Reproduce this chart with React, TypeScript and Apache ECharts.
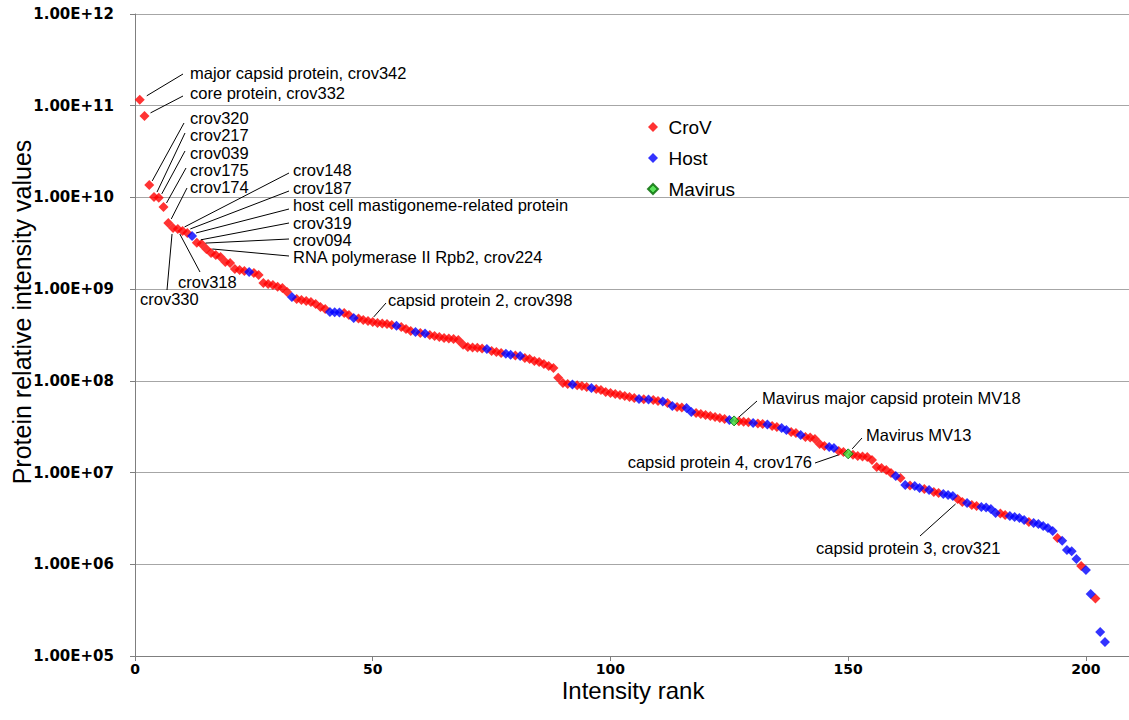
import React, { useEffect, useRef } from "react";
import * as echarts from "echarts";

// Protein relative intensity values, ordered by intensity rank (rank = index + 1)
const intensity: number[] = [
  1.16e11, 7.74e10, 1.37e10, 1.01e10, 9.89e9, 7.87e9, 5.27e9, 4.65e9, 4.53e9, 4.31e9,
  4.10e9, 3.80e9, 3.20e9, 3.10e9, 2.74e9, 2.48e9, 2.36e9, 2.24e9, 1.98e9, 1.93e9,
  1.66e9, 1.62e9, 1.58e9, 1.54e9, 1.50e9, 1.43e9, 1.17e9, 1.14e9, 1.11e9, 1.06e9,
  1.03e9, 9.31e8, 8.22e8, 7.82e8, 7.62e8, 7.43e8, 7.25e8, 6.90e8, 6.40e8, 6.08e8,
  5.64e8, 5.60e8, 5.55e8, 5.50e8, 5.23e8, 4.85e8, 4.80e8, 4.61e8, 4.50e8, 4.39e8,
  4.28e8, 4.22e8, 4.17e8, 4.07e8, 4.00e8, 3.87e8, 3.68e8, 3.50e8, 3.41e8, 3.33e8,
  3.28e8, 3.16e8, 3.09e8, 3.01e8, 2.94e8, 2.90e8, 2.86e8, 2.79e8, 2.47e8, 2.34e8,
  2.31e8, 2.29e8, 2.26e8, 2.23e8, 2.12e8, 2.07e8, 2.01e8, 1.98e8, 1.92e8, 1.89e8,
  1.87e8, 1.78e8, 1.73e8, 1.65e8, 1.61e8, 1.53e8, 1.45e8, 1.38e8, 1.08e8, 9.48e7,
  9.25e7, 9.10e7, 8.95e7, 8.79e7, 8.57e7, 8.37e7, 8.16e7, 7.96e7, 7.57e7, 7.38e7,
  7.20e7, 7.02e7, 6.84e7, 6.68e7, 6.51e7, 6.35e7, 6.30e7, 6.25e7, 6.20e7, 6.04e7,
  5.97e7, 5.74e7, 5.32e7, 5.19e7, 5.12e7, 5.06e7, 4.58e7, 4.47e7, 4.36e7, 4.25e7,
  4.14e7, 4.04e7, 3.94e7, 3.84e7, 3.75e7, 3.66e7, 3.62e7, 3.58e7, 3.54e7, 3.48e7,
  3.43e7, 3.39e7, 3.35e7, 3.22e7, 3.14e7, 3.06e7, 2.91e7, 2.77e7, 2.70e7, 2.57e7,
  2.44e7, 2.41e7, 2.32e7, 2.05e7, 1.95e7, 1.90e7, 1.85e7, 1.72e7, 1.68e7, 1.60e7,
  1.56e7, 1.52e7, 1.50e7, 1.48e7, 1.37e7, 1.15e7, 1.12e7, 1.07e7, 9.90e6, 9.18e6,
  8.73e6, 7.32e6, 7.25e6, 7.14e6, 6.79e6, 6.62e6, 6.46e6, 6.14e6, 5.99e6, 5.84e6,
  5.70e6, 5.56e6, 5.15e6, 4.78e6, 4.66e6, 4.43e6, 4.32e6, 4.22e6, 4.17e6, 4.01e6,
  3.63e6, 3.59e6, 3.45e6, 3.36e6, 3.28e6, 3.20e6, 3.04e6, 2.89e6, 2.82e6, 2.75e6,
  2.62e6, 2.49e6, 2.31e6, 1.94e6, 1.80e6, 1.43e6, 1.39e6, 1.14e6, 9.58e5, 8.67e5,
  4.74e5, 4.24e5, 1.83e5, 1.42e5,
];

// Ranks of host proteins and Mavirus proteins (all others are CroV)
const hostRanks: number[] = [
  12, 24, 33, 41, 42, 43, 46, 55, 59, 61, 74, 78, 79, 81, 92, 96, 106, 108, 111, 113,
  116, 117, 125, 130, 133, 136, 137, 140, 146, 147, 160, 162, 164, 165, 167, 170, 171,
  172, 175, 178, 179, 180, 181, 184, 185, 186, 187, 189, 190, 191, 192, 193, 195, 196,
  197, 198, 200, 201, 203, 204,
];
const mavirusRanks: number[] = [126, 150];

const seriesNames: string[] = ["CroV", "Host", "Mavirus"];

// Annotated proteins (rank + label)
const annotationRanks: number[] = [1, 2, 3, 4, 5, 6, 7, 10, 11, 12, 13, 14, 15, 9, 8, 50, 126, 150, 149, 173];
const annotationTexts: string[] = [
  "major capsid protein, crov342",
  "core protein, crov332",
  "crov320",
  "crov217",
  "crov039",
  "crov175",
  "crov174",
  "crov148",
  "crov187",
  "host cell mastigoneme-related protein",
  "crov319",
  "crov094",
  "RNA polymerase II Rpb2, crov224",
  "crov318",
  "crov330",
  "capsid protein 2, crov398",
  "Mavirus major capsid protein MV18",
  "Mavirus MV13",
  "capsid protein 4, crov176",
  "capsid protein 3, crov321",
];

// Layout of annotation labels (pixels): text anchor, leader start, offset of leader end from point
const annotationLayout = [
  { tx: 190, ty: 73, lx: 183, ly: 74, dx: 7, dy: -4, align: "left" },
  { tx: 190, ty: 93, lx: 183, ly: 96, dx: 6, dy: -3, align: "left" },
  { tx: 190, ty: 118, lx: 184, ly: 123, dx: 3, dy: -4, align: "left" },
  { tx: 190, ty: 135, lx: 185, ly: 133, dx: 3, dy: -5, align: "left" },
  { tx: 190, ty: 153, lx: 185, ly: 151, dx: 3, dy: -4, align: "left" },
  { tx: 190, ty: 170, lx: 186, ly: 168, dx: 3, dy: -4, align: "left" },
  { tx: 190, ty: 187, lx: 187, ly: 188, dx: 3, dy: -4, align: "left" },
  { tx: 293, ty: 170, lx: 289, ly: 173, dx: 2, dy: -4, align: "left" },
  { tx: 293, ty: 188, lx: 289, ly: 191, dx: 3, dy: -4, align: "left" },
  { tx: 293, ty: 205, lx: 289, ly: 209, dx: 4, dy: -3, align: "left" },
  { tx: 293, ty: 223, lx: 289, ly: 223, dx: 4, dy: -3, align: "left" },
  { tx: 293, ty: 240, lx: 289, ly: 239, dx: 4, dy: -1, align: "left" },
  { tx: 293, ty: 257, lx: 289, ly: 256, dx: 6, dy: 0, align: "left" },
  { tx: 178, ty: 282, lx: 200, ly: 272, dx: 2, dy: 5, align: "left" },
  { tx: 140, ty: 299, lx: 167, ly: 290, dx: -1, dy: 6, align: "left" },
  { tx: 388, ty: 300, lx: 386, ly: 303, dx: 1, dy: -5, align: "left" },
  { tx: 762, ty: 398, lx: 757, ly: 401, dx: 5, dy: -4, align: "left" },
  { tx: 866, ty: 435, lx: 862, ly: 438, dx: 4, dy: -5, align: "left" },
  { tx: 812, ty: 462, lx: 815, ly: 463, dx: -5, dy: 3, align: "right" },
  { tx: 816, ty: 548, lx: 920, ly: 536, dx: -2, dy: 5, align: "left" },
];

const TEXT_FONT = "'Liberation Sans', Arial, sans-serif";
const TICK_FONT = "'DejaVu Sans', Verdana, sans-serif";
const DIAMOND = "path://M5,0L10,5L5,10L0,5Z";

function fmtE(v: number): string {
  const e = Math.round(Math.log10(v));
  return "1.00E+" + String(e).padStart(2, "0");
}

export default function App() {
  const ref = useRef<HTMLDivElement>(null);

  useEffect(() => {
    if (!ref.current) return;
    const chart = echarts.init(ref.current, undefined, { renderer: "svg" });

    const crov: number[][] = [];
    const host: number[][] = [];
    const mav: number[][] = [];
    intensity.forEach((v, i) => {
      const r = i + 1;
      if (mavirusRanks.includes(r)) mav.push([r, v]);
      else if (hostRanks.includes(r)) host.push([r, v]);
      else crov.push([r, v]);
    });

    chart.setOption({
      animation: false,
      grid: {
        left: 135,
        top: 14,
        width: 998.5,
        height: 642,
        containLabel: false,
        outerBoundsMode: "none",
      },
      xAxis: {
        type: "value",
        min: 0,
        max: 210,
        interval: 50,
        axisLine: { show: true, lineStyle: { color: "#7f7f7f", width: 1 } },
        axisTick: { show: true, length: 5, lineStyle: { color: "#7f7f7f" } },
        axisLabel: {
          showMaxLabel: false,
          fontFamily: TICK_FONT,
          fontWeight: "bold",
          fontSize: 14,
          color: "#000",
          margin: 6,
        },
        splitLine: { show: false },
      },
      yAxis: {
        type: "log",
        logBase: 10,
        min: 1e5,
        max: 1e12,
        splitNumber: 7,
        axisLine: { show: true, lineStyle: { color: "#7f7f7f", width: 1 } },
        axisTick: { show: true, length: 5, lineStyle: { color: "#7f7f7f" } },
        axisLabel: {
          formatter: (v: number) => fmtE(v),
          fontFamily: TICK_FONT,
          fontWeight: "bold",
          fontSize: 15,
          color: "#000",
          margin: 21,
        },
        splitLine: { show: true, lineStyle: { color: "#a6a6a6", width: 1 } },
        minorTick: { show: false },
        minorSplitLine: { show: false },
      },
      legend: {
        orient: "vertical",
        left: 642,
        top: 112,
        itemWidth: 21,
        itemHeight: 10,
        itemGap: 11,
        icon: DIAMOND,
        symbolKeepAspect: true,
        data: seriesNames,
        textStyle: { fontSize: 19, fontFamily: TEXT_FONT, color: "#000", lineHeight: 20 },
      },
      series: [
        {
          name: seriesNames[0],
          type: "scatter",
          symbol: "diamond",
          symbolSize: 10,
          itemStyle: { color: "#ff0000" },
          data: crov,
          z: 2,
        },
        {
          name: seriesNames[1],
          type: "scatter",
          symbol: "diamond",
          symbolSize: 10,
          itemStyle: { color: "#0000ff" },
          data: host,
          z: 3,
        },
        {
          name: seriesNames[2],
          type: "scatter",
          symbol: "diamond",
          symbolSize: 10,
          itemStyle: { color: "#33dd33", borderColor: "#006600", borderWidth: 1 },
          data: mav,
          z: 4,
        },
      ],
    });

    const elements: any[] = [];
    annotationRanks.forEach((r, i) => {
      const lay = annotationLayout[i];
      const p = chart.convertToPixel({ gridIndex: 0 }, [r, intensity[r - 1]]) as number[];
      elements.push({
        type: "line",
        shape: { x1: lay.lx, y1: lay.ly, x2: p[0] + lay.dx, y2: p[1] + lay.dy },
        style: { stroke: "#000", lineWidth: 1 },
        z: 10,
      });
      elements.push({
        type: "text",
        x: lay.tx,
        y: lay.ty,
        style: {
          text: annotationTexts[i],
          fontSize: 16.5,
          fontFamily: TEXT_FONT,
          fill: "#000",
          align: lay.align,
          verticalAlign: "middle",
        },
        z: 10,
      });
    });
    elements.push({
      type: "text",
      x: 22,
      y: 312,
      rotation: Math.PI / 2,
      style: {
        text: "Protein relative intensity values",
        fontSize: 25,
        fontFamily: TEXT_FONT,
        fill: "#000",
        align: "center",
        verticalAlign: "middle",
      },
    });
    elements.push({
      type: "text",
      x: 633,
      y: 690,
      style: {
        text: "Intensity rank",
        fontSize: 24,
        fontFamily: TEXT_FONT,
        fill: "#000",
        align: "center",
        verticalAlign: "middle",
      },
    });
    chart.setOption({ graphic: elements });

    return () => chart.dispose();
  }, []);

  return (
    <div
      ref={ref}
      style={{ position: "absolute", left: 0, top: 0, width: 1129, height: 720, background: "#fff" }}
    />
  );
}
